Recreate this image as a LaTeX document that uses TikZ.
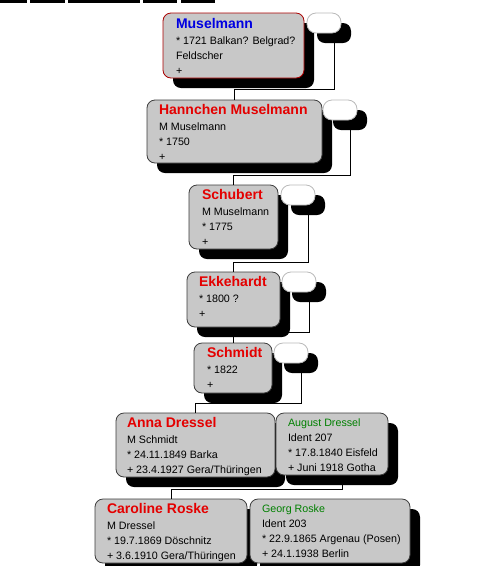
\documentclass[tikz,border=0pt]{standalone}
\usepackage{fontspec}
\setmainfont{Liberation Sans}
\usepackage{xcolor}
\definecolor{boxgray}{RGB}{200,200,200}
\definecolor{namered}{RGB}{228,0,0}
\definecolor{nameblue}{RGB}{0,0,225}
\definecolor{namegreen}{RGB}{0,128,0}
\definecolor{rimred}{RGB}{170,0,0}
\definecolor{rimgray}{RGB}{60,60,60}
\definecolor{ovalrim}{RGB}{185,185,185}
\newcommand{\pname}[2]{{\color{#1}\fontsize{14}{16}\selectfont\bfseries #2}}
\newcommand{\gname}[1]{{\color{namegreen}#1}}
\newcommand{\plines}[1]{\begin{tabular}[t]{@{}l@{}}#1\end{tabular}}

\begin{document}
\begin{tikzpicture}[
  x=1pt,y=-1pt,
  every node/.style={inner sep=0pt,outer sep=0pt},
  wh/.style 2 args={minimum width=#1pt,minimum height=#2pt},
  card/.style={anchor=north west,draw=rimgray,fill=boxgray,rounded corners=8pt,line width=0.8pt},
  dropbox/.style={anchor=north west,fill=black,rounded corners=8pt},
  spouse/.style={anchor=north west,draw=ovalrim,fill=white,rounded corners=9pt,line width=0.8pt},
  info/.style={anchor=base west,font=\fontsize{10.7}{15}\selectfont},
  link/.style={draw=black,line width=0.9pt},
]
\useasboundingbox (0,0) rectangle (488,566);
% toolbar edge
\foreach \a/\b in {0/27,30/65,68/140,143/177,181/215}
  \fill (\a,0) rectangle (\b,3);
% ---- Muselmann ----
\node[dropbox,wh={141}{65}] (mus-s) at (173,23) {};
\node[card,draw=rimred,wh={141}{65}] (mus) at (163,13) {};
\node[info] (mus-t) at (176,28) {\plines{\pname{nameblue}{Muselmann}\\[1pt]{*} 1721 Balkan? Belgrad?\\Feldscher\\+}};
\node[dropbox,wh={34}{20}] (mus-os) at (317,23) {};
\node[spouse,wh={34}{20}] (mus-o) at (307,13) {};
% ---- Hannchen Muselmann ----
\node[dropbox,wh={175}{63}] (hann-s) at (157,110) {};
\node[card,wh={175}{63}] (hann) at (147,100) {};
\node[info] (hann-t) at (159,114) {\plines{\pname{namered}{Hannchen Muselmann}\\[1pt]M Muselmann\\{*} 1750\\+}};
\node[dropbox,wh={34}{20}] (hann-os) at (333,110) {};
\node[spouse,wh={34}{20}] (hann-o) at (323,100) {};
% ---- Schubert ----
\node[dropbox,wh={89}{64}] (schub-s) at (199,195) {};
\node[card,wh={89}{64}] (schub) at (189,185) {};
\node[info] (schub-t) at (202,199) {\plines{\pname{namered}{Schubert}\\[1pt]M Muselmann\\{*} 1775\\+}};
\node[dropbox,wh={34}{20}] (schub-os) at (291,195) {};
\node[spouse,wh={34}{20}] (schub-o) at (281,185) {};
% ---- Ekkehardt ----
\node[dropbox,wh={93}{55}] (ekk-s) at (197,282) {};
\node[card,wh={93}{55}] (ekk) at (187,272) {};
\node[info] (ekk-t) at (199,286) {\plines{\pname{namered}{Ekkehardt}\\[1pt]{*} 1800 ?\\+}};
\node[dropbox,wh={34}{20}] (ekk-os) at (292,282) {};
\node[spouse,wh={34}{20}] (ekk-o) at (282,272) {};
% ---- Schmidt ----
\node[dropbox,wh={78}{50}] (schm-s) at (204,353) {};
\node[card,wh={78}{50}] (schm) at (194,343) {};
\node[info] (schm-t) at (207,357) {\plines{\pname{namered}{Schmidt}\\[1pt]{*} 1822\\+}};
\node[dropbox,wh={34}{20}] (schm-os) at (284,353) {};
\node[spouse,wh={34}{20}] (schm-o) at (274,343) {};
% ---- Anna Dressel / August Dressel ----
\node[dropbox,wh={159}{64}] (anna-s) at (126,423) {};
\node[card,wh={159}{64}] (anna) at (116,413) {};
\node[info] (anna-t) at (127,427) {\plines{\pname{namered}{Anna Dressel}\\[1pt]M Schmidt\\{*} 24.11.1849 Barka\\+ 23.4.1927 Gera/Thüringen}};
\node[dropbox,wh={112}{62}] (aug-s) at (286,423) {};
\node[card,wh={112}{62}] (aug) at (276,413) {};
\node[info] (aug-t) at (288,426) {\plines{\gname{August Dressel}\\Ident 207\\{*} 17.8.1840 Eisfeld\\+ Juni 1918 Gotha}};
% ---- Caroline Roske / Georg Roske ----
\node[dropbox,wh={152}{64}] (car-s) at (105,509) {};
\node[card,wh={152}{64}] (car) at (95,499) {};
\node[info] (car-t) at (107,513) {\plines{\pname{namered}{Caroline Roske}\\[1pt]M Dressel\\{*} 19.7.1869 Döschnitz\\+ 3.6.1910 Gera/Thüringen}};
\node[dropbox,wh={160}{64}] (georg-s) at (260,509) {};
\node[card,wh={160}{64}] (georg) at (250,499) {};
\node[info] (georg-t) at (262,512) {\plines{\gname{Georg Roske}\\Ident 203\\{*} 22.9.1865 Argenau (Posen)\\+ 24.1.1938 Berlin}};
% ---- descent lines ----
\draw[link] (hann.north) -- ++(0,-11) -| (mus-os.south);
\draw[link] (schub.north) -- ++(0,-10) -| (hann-os.south);
\draw[link] (ekk.north) -- ++(0,-10) -| (schub-os.south);
\draw[link] (schm.north) -- ++(0,-11) -| (ekk-os.south);
\draw[link] (anna.north) -- ++(0,-10) -| (schm-os.south);
\draw[link] (car.north) -- ++(0,-10) -| (aug-s.south);
\end{tikzpicture}
\end{document}
